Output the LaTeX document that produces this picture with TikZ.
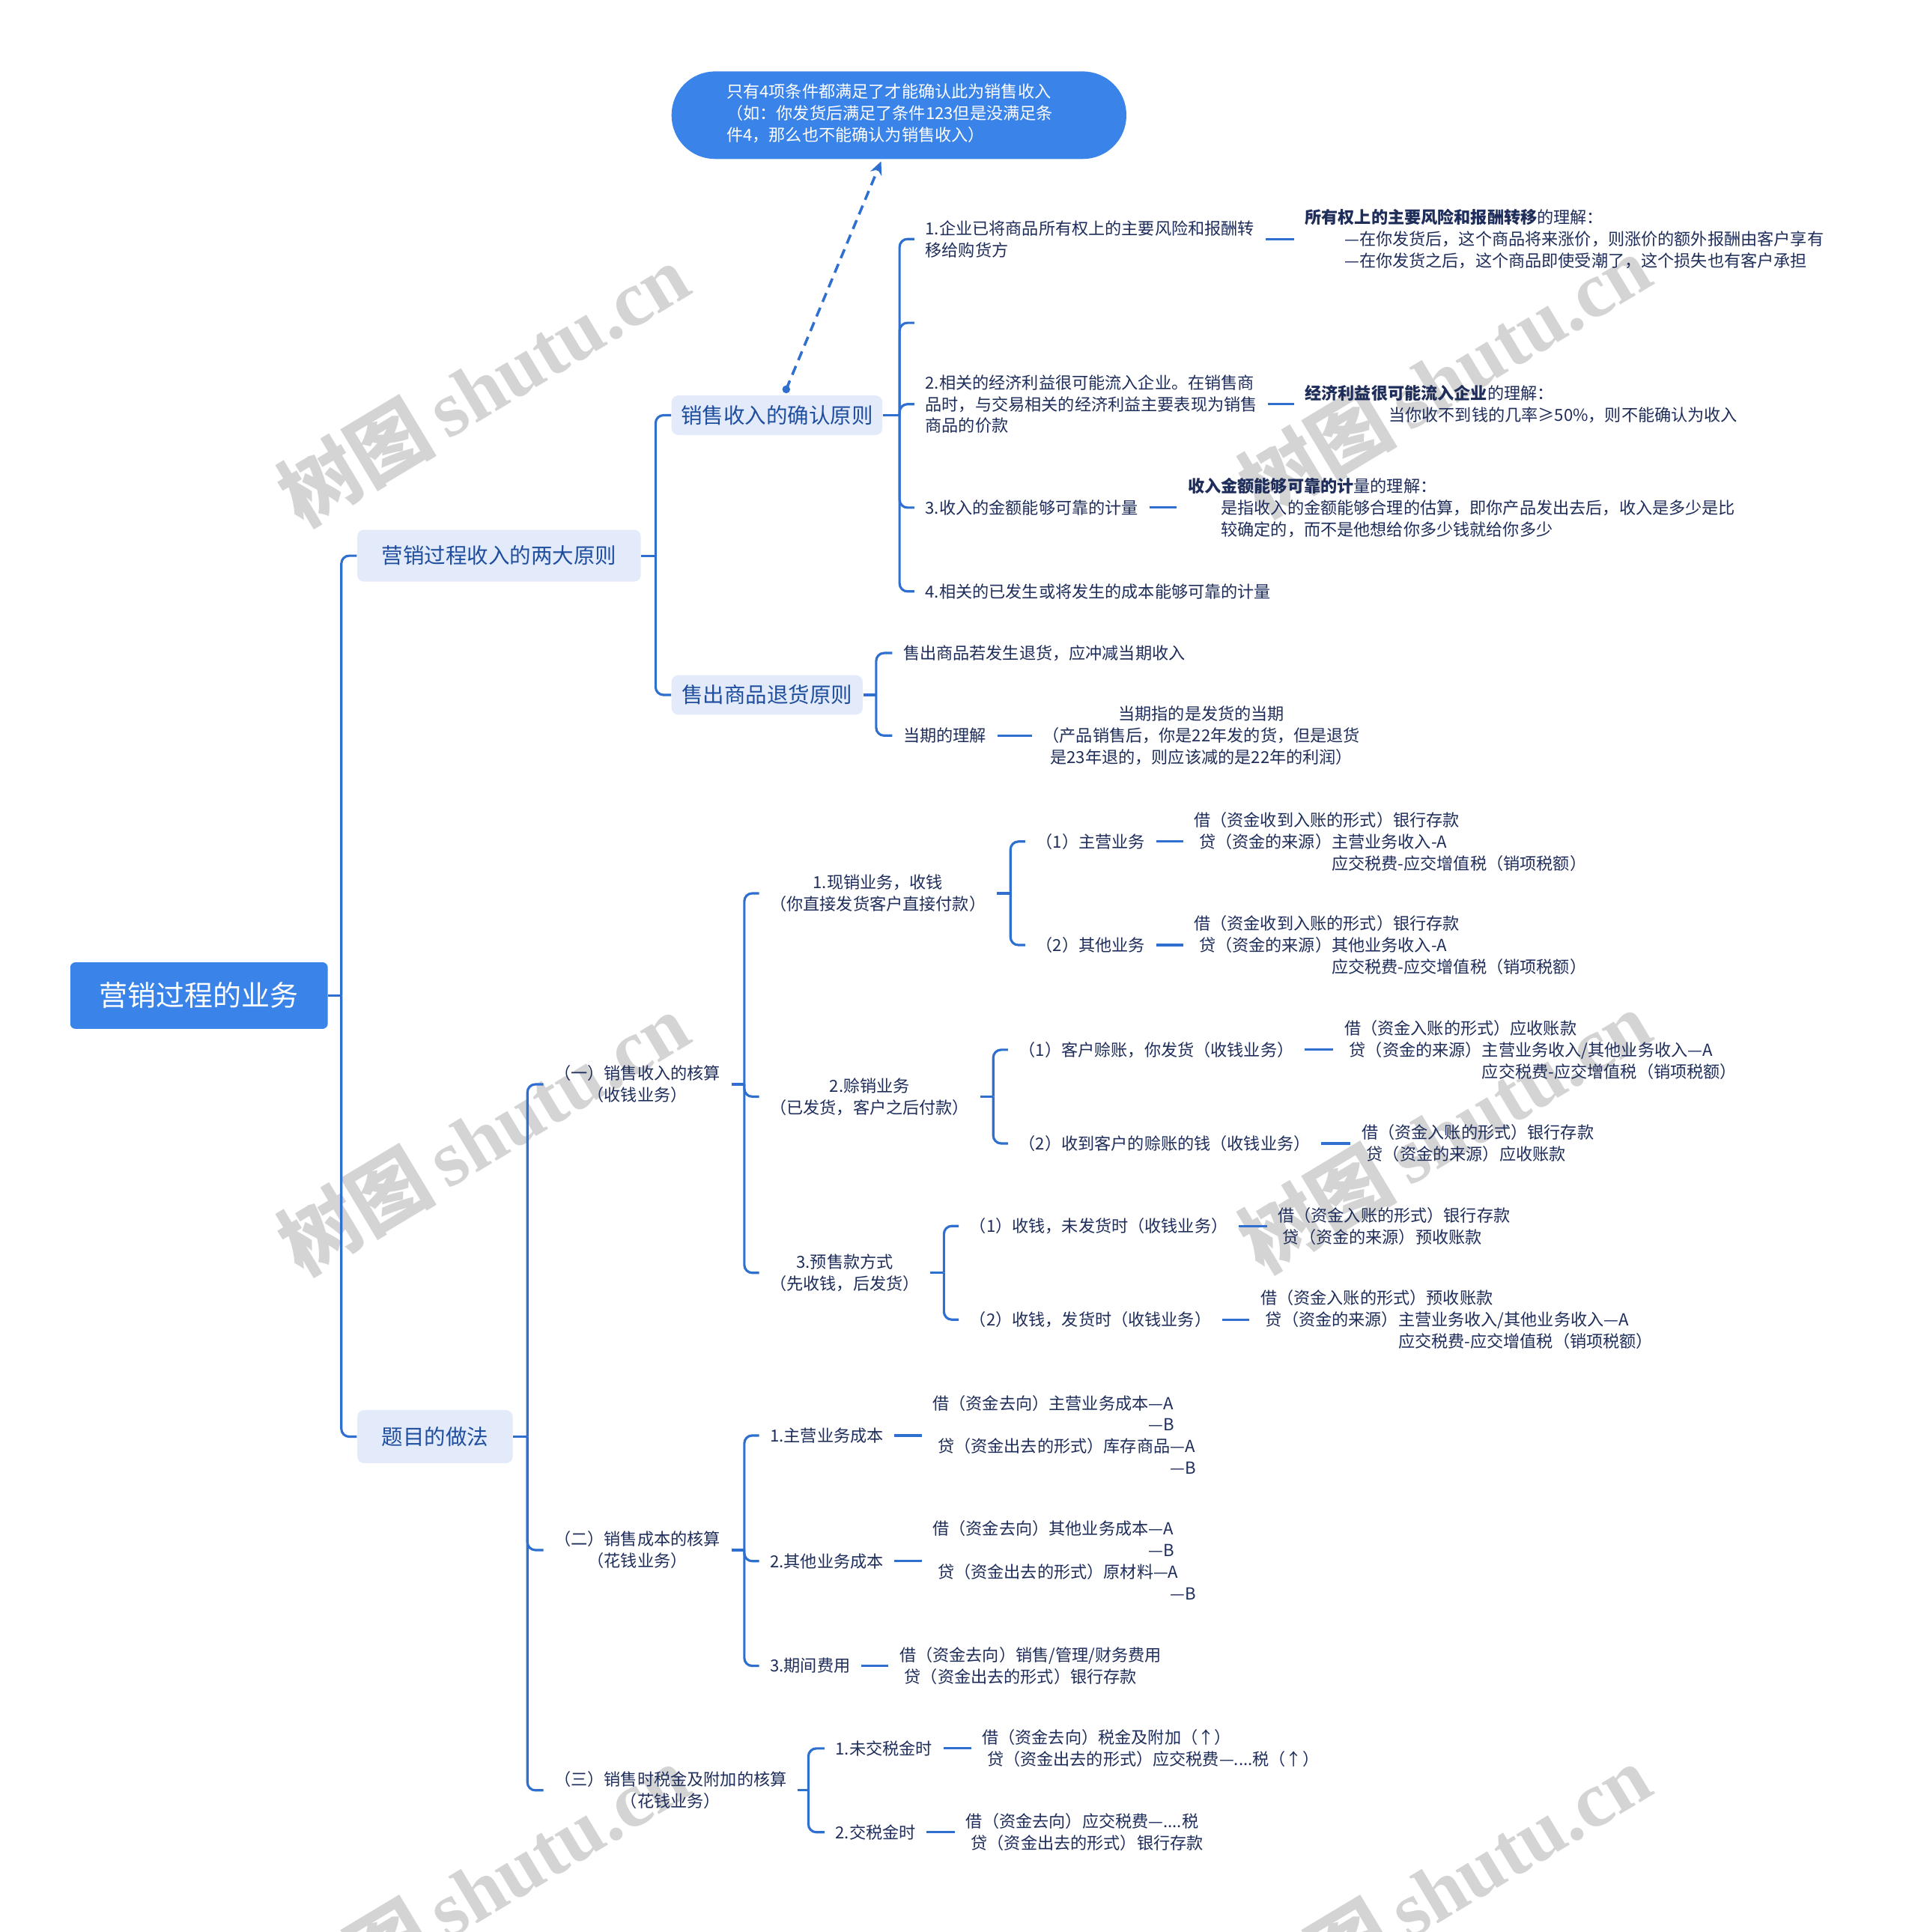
\documentclass[tikz,border=0pt]{standalone}
\usepackage{fontspec}
\setmainfont{Noto Sans CJK SC}
\newfontfamily\wmfont{Liberation Serif}
\usetikzlibrary{arrows.meta,calc}
\definecolor{rootblue}{HTML}{3A83E8}
\definecolor{linkblue}{HTML}{2E6FD0}
\definecolor{boxfill}{HTML}{E3EBFA}
\definecolor{boxtext}{HTML}{1F4E9E}
\definecolor{txt}{HTML}{1E2D5A}
\def\spx{0.4681pt}
\newcommand\smtxt{\fontsize{6.3}{8.2}\selectfont}
\newcommand\dai{\hspace*{1.9pt}}
\begin{document}
\begin{tikzpicture}[x=0.016452cm,y=-0.016454cm,
  conn/.style={draw=linkblue,line width=0.9pt,rounded corners=3pt},
  rootbox/.style={fill=rootblue,text=white,rounded corners=2pt,font=\fontsize{10.8}{13}\selectfont,inner sep=0pt},
  lvbox/.style={fill=boxfill,text=boxtext,rounded corners=2.5pt,font=\fontsize{8.1}{10}\selectfont,inner sep=0pt},
  leaf/.style={anchor=west,text=txt,font=\smtxt,align=left,inner xsep=4pt,inner ysep=1pt},
  cleaf/.style={leaf,align=center},
  wm/.style={text=black!17,rotate=31,font=\fontsize{30}{30}\selectfont\bfseries}
]
\useasboundingbox (0,0) rectangle (1556,1568);
\fill[white] (0,0) rectangle (1556,1568);
\clip (0,0) rectangle (1556,1568);

% watermarks
\foreach \wx/\wy [count=\k] in {392/312,392/920,392/1530,1172/305,1172/918,1172/1530}
  \node[wm] (wm\k) at (\wx,\wy) {树图\,{\wmfont\bfseries shutu.cn}};

% root and main boxes
\node[rootbox,minimum width=209*\spx,minimum height=54*\spx] (root) at (161.5,808) {营销过程的业务};
\node[lvbox,minimum width=230*\spx,minimum height=42*\spx] (A) at (405,451) {营销过程收入的两大原则};
\node[lvbox,minimum width=126*\spx,minimum height=43*\spx] (B) at (353,1166) {题目的做法};
\node[lvbox,minimum width=171*\spx,minimum height=32*\spx] (conf) at (630.5,337) {销售收入的确认原则};
\node[lvbox,minimum width=155*\spx,minimum height=32*\spx] (ret) at (622.5,564) {售出商品退货原则};

% callout
\node[fill=rootblue,text=white,rounded corners=16.5pt,minimum width=369*\spx,minimum height=71*\spx,inner sep=0pt,font=\smtxt] (callout) at (729.5,93.5)
  {\begin{tabular}{@{}l@{\hspace{7pt}}}只有4项条件都满足了才能确认此为销售收入\\（如：你发货后满足了条件123但是没满足条\\件4，那么也不能确认为销售收入）\end{tabular}};
\coordinate (dot) at (638,316);
\coordinate (tip) at (715,131);
\fill[linkblue] (dot) circle (1.5pt);
\draw[linkblue,line width=1pt,dash pattern=on 3.6pt off 2.4pt,-{Stealth[length=5pt,width=4.6pt]}] (dot) -- (tip);

% level 3 under conf
\node[leaf] (c1) at (742,194) {1.企业已将商品所有权上的主要风险和报酬转\\移给购货方};
\coordinate (cE) at (742,262);
\node[leaf] (c2) at (742,328) {2.相关的经济利益很可能流入企业。在销售商\\品时，与交易相关的经济利益主要表现为销售\\商品的价款};
\node[leaf] (c3) at (742,412) {3.收入的金额能够可靠的计量};
\node[leaf] (c4) at (742,480) {4.相关的已发生或将发生的成本能够可靠的计量};

\node[leaf] (d1) at (1050,194) {\textbf{所有权上的主要风险和报酬转移}的理解：\\\hspace*{15pt}—在你发货后，这个商品将来涨价，则涨价的额外报酬由客户享有\\\hspace*{15pt}—在你发货之后，这个商品即使受潮了，这个损失也有客户承担};
\node[leaf] (d2) at (1050,328) {\textbf{经济利益很可能流入企业}的理解：\\\hspace*{31.8pt}当你收不到钱的几率≥50\%，则不能确认为收入};
\node[leaf] (d3) at (955,412) {\textbf{收入金额能够可靠的计}量的理解：\\\hspace*{12.6pt}是指收入的金额能够合理的估算，即你产品发出去后，收入是多少是比\\\hspace*{12.6pt}较确定的，而不是他想给你多少钱就给你多少};

% under ret
\node[leaf] (e1) at (724,530) {售出商品若发生退货，应冲减当期收入};
\node[leaf] (e2) at (724,597) {当期的理解};
\node[cleaf,anchor=center] (f2) at (975,597) {当期指的是发货的当期\\（产品销售后，你是22年发的货，但是退货\\是23年退的，则应该减的是22年的利润）};

% under B
\node[cleaf] (g1) at (441,880) {（一）销售收入的核算\\（收钱业务）};
\node[cleaf] (g2) at (441,1258) {（二）销售成本的核算\\（花钱业务）};
\node[cleaf] (g3) at (441,1453) {（三）销售时税金及附加的核算\\（花钱业务）};

\node[cleaf] (h1) at (616,725) {1.现销业务，收钱\\（你直接发货客户直接付款）};
\node[cleaf] (h2) at (616,890) {2.赊销业务\\（已发货，客户之后付款）};
\node[cleaf] (h3) at (616,1033) {3.预售款方式\\（先收钱，后发货）};

\node[leaf] (i1) at (832,683) {（1）主营业务};
\node[leaf] (i2) at (832,767) {（2）其他业务};
\node[leaf] (j1) at (960,683) {借（资金收到入账的形式）银行存款\\\dai 贷（资金的来源）主营业务收入-A\\\dai\phantom{贷（资金的来源）}应交税费-应交增值税（销项税额）};
\node[leaf] (j2) at (960,767) {借（资金收到入账的形式）银行存款\\\dai 贷（资金的来源）其他业务收入-A\\\dai\phantom{贷（资金的来源）}应交税费-应交增值税（销项税额）};

\node[leaf] (i3) at (818,852) {（1）客户赊账，你发货（收钱业务）};
\node[leaf] (i4) at (818,928) {（2）收到客户的赊账的钱（收钱业务）};
\node[leaf] (j3) at (1082,852) {借（资金入账的形式）应收账款\\\dai 贷（资金的来源）主营业务收入/其他业务收入—A\\\dai\phantom{贷（资金的来源）}应交税费-应交增值税（销项税额）};
\node[leaf] (j4) at (1096,928) {借（资金入账的形式）银行存款\\\dai 贷（资金的来源）应收账款};

\node[leaf] (i5) at (778,995) {（1）收钱，未发货时（收钱业务）};
\node[leaf] (i6) at (778,1071) {（2）收钱，发货时（收钱业务）};
\node[leaf] (j5) at (1028,995) {借（资金入账的形式）银行存款\\\dai 贷（资金的来源）预收账款};
\node[leaf] (j6) at (1014,1071) {借（资金入账的形式）预收账款\\\dai 贷（资金的来源）主营业务收入/其他业务收入—A\\\dai\phantom{贷（资金的来源）}应交税费-应交增值税（销项税额）};

\node[leaf] (k1) at (616,1165) {1.主营业务成本};
\node[leaf] (k2) at (616,1267) {2.其他业务成本};
\node[leaf] (k3) at (616,1352) {3.期间费用};
\node[leaf] (l1) at (748,1165) {借（资金去向）主营业务成本—A\\\phantom{借（资金去向）主营业务成本}—B\\\dai 贷（资金出去的形式）库存商品—A\\\dai\phantom{贷（资金出去的形式）库存商品}—B};
\node[leaf] (l2) at (748,1267) {借（资金去向）其他业务成本—A\\\phantom{借（资金去向）其他业务成本}—B\\\dai 贷（资金出去的形式）原材料—A\\\dai\phantom{贷（资金出去的形式）库存商品}—B};
\node[leaf] (l3) at (721,1352) {借（资金去向）销售/管理/财务费用\\\dai 贷（资金出去的形式）银行存款};

\node[leaf] (m1) at (669,1419) {1.未交税金时};
\node[leaf] (m2) at (669,1487) {2.交税金时};
\node[leaf] (n1) at (788,1419) {借（资金去向）税金及附加（↑）\\\dai 贷（资金出去的形式）应交税费—....税（↑）};
\node[leaf] (n2) at (775,1487) {借（资金去向）应交税费—....税\\\dai 贷（资金出去的形式）银行存款};

% junctions
\coordinate (j0) at (277,808);
\coordinate (jA) at (532,451);
\coordinate (jconf) at (730,337);
\coordinate (jret) at (711,564);
\coordinate (jB) at (428,1166);
\coordinate (jg1) at (604,880);
\coordinate (jh1) at (820,725);
\coordinate (jh2) at (806,890);
\coordinate (jh3) at (766,1033);
\coordinate (jg2) at (604,1258);
\coordinate (jg3) at (656,1453);

% connectors
\draw[conn] (root.east) -- (j0);
\foreach \c in {A,B} \draw[conn] (j0) |- (\c.west);
\draw[conn] (A.east) -- (jA);
\foreach \c in {conf,ret} \draw[conn] (jA) |- (\c.west);
\draw[conn] (conf.east) -- (jconf);
\foreach \c in {c1,cE,c2,c3,c4} \draw[conn] (jconf) |- (\c);
\draw[conn] (ret.east) -- (jret);
\foreach \c in {e1,e2} \draw[conn] (jret) |- (\c.west);
\draw[conn] (B.east) -- (jB);
\foreach \c in {g1,g2,g3} \draw[conn] (jB) |- (\c.west);
\draw[conn] (g1.east) -- (jg1);
\foreach \c in {h1,h2,h3} \draw[conn] (jg1) |- (\c.west);
\draw[conn] (h1.east) -- (jh1);
\foreach \c in {i1,i2} \draw[conn] (jh1) |- (\c.west);
\draw[conn] (h2.east) -- (jh2);
\foreach \c in {i3,i4} \draw[conn] (jh2) |- (\c.west);
\draw[conn] (h3.east) -- (jh3);
\foreach \c in {i5,i6} \draw[conn] (jh3) |- (\c.west);
\draw[conn] (g2.east) -- (jg2);
\foreach \c in {k1,k2,k3} \draw[conn] (jg2) |- (\c.west);
\draw[conn] (g3.east) -- (jg3);
\foreach \c in {m1,m2} \draw[conn] (jg3) |- (\c.west);

% short links
\draw[conn] (c1.east) -- (d1.west);
\draw[conn] (c2.east) -- (d2.west);
\draw[conn] (c3.east) -- (d3.west);
\draw[conn] (e2.east) -- (f2.west);
\draw[conn] (i1.east) -- (j1.west);
\draw[conn] (i2.east) -- (j2.west);
\draw[conn] (i3.east) -- (j3.west);
\draw[conn] (i4.east) -- (j4.west);
\draw[conn] (i5.east) -- (j5.west);
\draw[conn] (i6.east) -- (j6.west);
\draw[conn] (k1.east) -- (l1.west);
\draw[conn] (k2.east) -- (l2.west);
\draw[conn] (k3.east) -- (l3.west);
\draw[conn] (m1.east) -- (n1.west);
\draw[conn] (m2.east) -- (n2.west);
\end{tikzpicture}
\end{document}
